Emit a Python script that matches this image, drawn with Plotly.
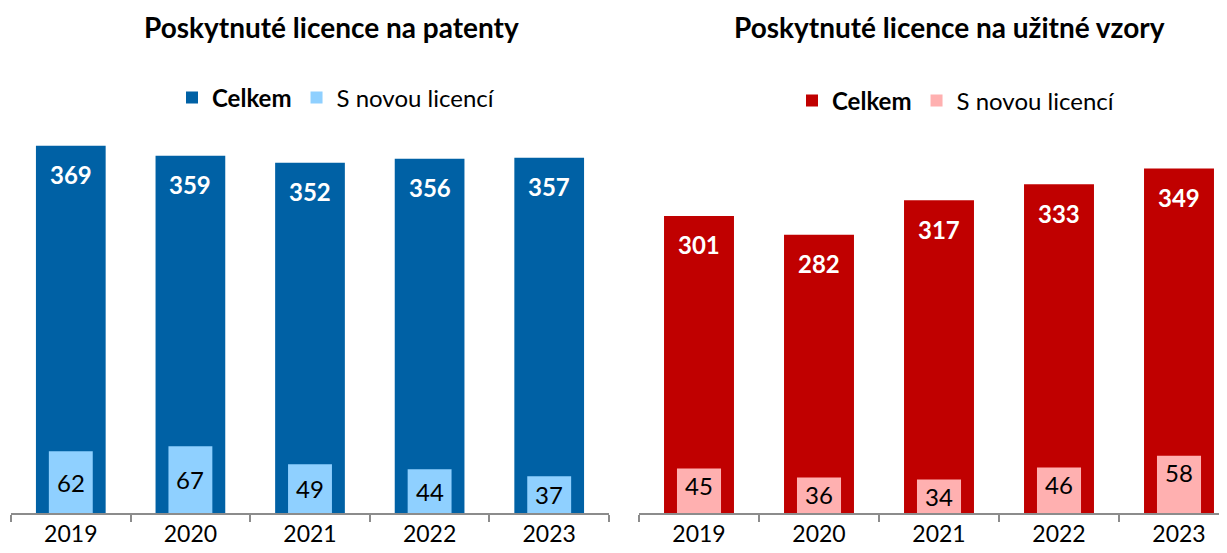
import plotly.graph_objects as go

years = ["2019", "2020", "2021", "2022", "2023"]
patent_total = [369, 359, 352, 356, 357]
patent_new = [62, 67, 49, 44, 37]
model_total = [301, 282, 317, 333, 349]
model_new = [45, 36, 34, 46, 58]

FONT = "Lato"
BLUE, LBLUE = "#0061A5", "#8FD0FF"
RED, PINK = "#C00000", "#FFB0B0"

W, H = 1227, 553
OFF = 8  # page body margin in the browser
PLOT_TOP, PLOT_BOTTOM = 113 - OFF, 513 - OFF
PLOT_H = PLOT_BOTTOM - PLOT_TOP
CAT_PX = 120


def py(pix):
    return (PLOT_BOTTOM - (pix - OFF)) / PLOT_H


def px(pix):
    return (pix - OFF) / W


fig = go.Figure()

fig.add_trace(go.Bar(x=years, y=patent_total, name="<b>Celkem</b>", marker_color=BLUE,
                     marker_line_width=0,
                     width=0.583, xaxis="x", yaxis="y", legend="legend", hoverinfo="skip"))
fig.add_trace(go.Bar(x=years, y=patent_new, name="S novou licencí", marker_color=LBLUE,
                     marker_line_width=0,
                     width=0.367, xaxis="x", yaxis="y", legend="legend", hoverinfo="skip"))

fig.add_trace(go.Bar(x=years, y=model_total, name="<b>Celkem</b>", marker_color=RED,
                     marker_line_width=0,
                     width=0.583, xaxis="x2", yaxis="y2", legend="legend2", hoverinfo="skip"))
fig.add_trace(go.Bar(x=years, y=model_new, name="S novou licencí", marker_color=PINK,
                     marker_line_width=0,
                     width=0.367, xaxis="x2", yaxis="y2", legend="legend2", hoverinfo="skip"))

annotations = []
# totals: white bold labels near the top of the wide bars
for ys, xr, yr in [(patent_total, "x", "y"), (model_total, "x2", "y2")]:
    for i, yv in enumerate(ys):
        annotations.append(dict(x=i, y=yv, xref=xr, yref=yr, text=f"<b>{yv}</b>",
                                showarrow=False, yanchor="middle", yshift=-29,
                                font=dict(family=FONT, size=24, color="white")))
# new licences, patents: centred in bar
for i, yv in enumerate(patent_new):
    annotations.append(dict(x=i, y=yv / 2, xref="x", yref="y", text=str(yv),
                            showarrow=False, yanchor="middle",
                            font=dict(family=FONT, size=24, color="black")))
# new licences, utility models: near top of bar
for i, yv in enumerate(model_new):
    annotations.append(dict(x=i, y=yv, xref="x2", yref="y2", text=str(yv),
                            showarrow=False, yanchor="middle", yshift=-17,
                            font=dict(family=FONT, size=24, color="black")))

annotations.append(dict(x=px(331), y=py(27), xref="paper", yref="paper",
                        text="<b>Poskytnuté licence na patenty</b>", showarrow=False,
                        xanchor="center", yanchor="middle",
                        font=dict(family=FONT, size=28, color="black")))
annotations.append(dict(x=px(949), y=py(27), xref="paper", yref="paper",
                        text="<b>Poskytnuté licence na užitné vzory</b>", showarrow=False,
                        xanchor="center", yanchor="middle",
                        font=dict(family=FONT, size=28, color="black")))

xaxis_common = dict(type="category", showline=True, linecolor="#8c8c8c", linewidth=1.5,
                    ticks="outside", tickson="boundaries", ticklen=7, tickcolor="#8c8c8c",
                    tickwidth=1.5, showgrid=False, zeroline=False, automargin=False,
                    tickfont=dict(family=FONT, size=23, color="black"), fixedrange=True)

right_start = 639 - OFF
right_range_end = -0.5 + (W - right_start) / CAT_PX

fig.update_layout(
    width=W, height=H,
    margin=dict(l=0, r=0, t=PLOT_TOP, b=H - PLOT_BOTTOM, autoexpand=False),
    paper_bgcolor="white", plot_bgcolor="white",
    barmode="overlay",
    font=dict(family=FONT, color="black"),
    xaxis=dict(domain=[px(11), px(609)], range=[-0.5, 4.5], anchor="y", **xaxis_common),
    xaxis2=dict(domain=[right_start / W, 1.0], range=[-0.5, right_range_end], anchor="y2",
                **xaxis_common),
    yaxis=dict(domain=[0, 1], range=[0, 402], visible=False, anchor="x", automargin=False),
    yaxis2=dict(domain=[0, 1], range=[0, 405.3], visible=False, anchor="x2", automargin=False),
    legend=dict(orientation="h", x=px(336), y=py(98), xanchor="center", yanchor="middle",
                font=dict(family=FONT, size=24, color="black"), traceorder="normal",
                itemwidth=30, bgcolor="rgba(0,0,0,0)"),
    legend2=dict(orientation="h", x=px(956), y=py(101), xanchor="center", yanchor="middle",
                 font=dict(family=FONT, size=24, color="black"), traceorder="normal",
                 itemwidth=30, bgcolor="rgba(0,0,0,0)"),
    annotations=annotations,
    showlegend=True,
)

fig.write_html("out.html")
